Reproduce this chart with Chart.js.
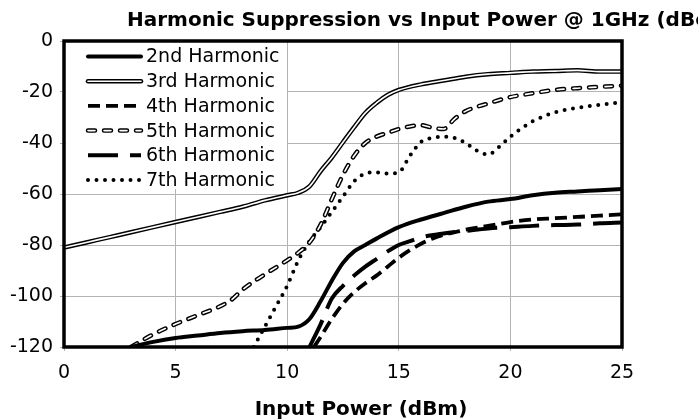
<!DOCTYPE html>
<html>
<head>
<meta charset="utf-8">
<script src="https://cdn.jsdelivr.net/npm/chart.js@4.4.1/dist/chart.umd.min.js"></script>
<style>
  html, body { margin: 0; padding: 0; background: #fff; overflow: hidden; }
  #wrap { width: 698px; height: 420px; position: relative; }
</style>
</head>
<body>
<div id="wrap"><canvas id="chart"></canvas></div>
<script>
const chartTitle = "Harmonic Suppression vs Input Power @ 1GHz (dBc)";
const xTitle = "Input Power (dBm)";
const seriesNames = ["2nd Harmonic", "3rd Harmonic", "4th Harmonic", "5th Harmonic", "6th Harmonic", "7th Harmonic"];

// values, x = input power (dBm), y = suppression (dBc)
const h2X = [3, 4, 5, 6, 7, 8, 9, 10, 10.5, 11, 11.5, 12, 12.5, 13, 13.5, 14, 15, 16, 17, 18, 19, 20, 21, 22, 23, 24, 25];
const h2Y = [-120, -118, -116.5, -115.5, -114.5, -113.8, -113.3, -112.5, -112, -109, -102, -94, -87, -82.5, -80, -77.5, -73, -70, -67.5, -65, -63, -62, -60.5, -59.5, -59, -58.5, -58];

const h3X = [0, 1, 2, 3, 4, 5, 6, 7, 8, 9, 10, 10.5, 11, 11.5, 12, 12.5, 13, 13.5, 14, 14.5, 15, 16, 17, 18, 19, 20, 21, 22, 23, 24, 25];
const h3Y = [-81, -79, -77, -75, -73, -71, -69, -67, -65, -62.5, -60.5, -59.5, -57, -51, -45.7, -39.7, -33.8, -28.2, -24.3, -21.2, -19.2, -17, -15.5, -14, -13, -12.5, -12, -11.8, -11.5, -12, -12];

const h4X = [11.2, 11.5, 12, 12.5, 13, 13.5, 14, 14.5, 15, 15.5, 16, 16.5, 17, 17.5, 18, 19, 20, 21, 22, 23, 24, 25];
const h4Y = [-120, -116, -109, -103, -98.5, -95, -92, -88.5, -85, -82, -79.5, -77.5, -76, -75, -74, -72.5, -71, -70, -69.5, -69, -68.5, -68];

const h5X = [3, 4, 5, 6, 7, 7.5, 8, 9, 10, 10.5, 11, 11.5, 12, 12.5, 13, 13.5, 14, 14.5, 15, 15.5, 16, 16.5, 17, 17.5, 18, 19, 20, 21, 22, 23, 24, 25];
const h5Y = [-120, -115, -111, -107.5, -104, -101.5, -97.5, -91.5, -86, -83, -79, -72, -62, -52.5, -45, -40, -37.5, -36, -34.5, -33.5, -33, -34, -34.5, -30.5, -27.5, -24.5, -22, -20.5, -19.2, -18.5, -18, -17.5];

const h6X = [11, 11.5, 12, 12.5, 13, 13.5, 14, 14.5, 15, 15.5, 16, 17, 18, 19, 20, 21, 22, 23, 24, 25];
const h6Y = [-120, -111, -101, -96, -92, -88.5, -85.5, -82.5, -80, -78.5, -77, -75.5, -74.5, -73.5, -73, -72.5, -72.2, -72, -71.5, -71.2];

const h7X = [8.5, 9, 9.5, 10, 10.5, 11, 11.5, 12, 12.5, 13, 13.5, 14, 14.5, 15, 15.5, 16, 16.5, 17, 17.5, 18, 18.5, 19, 19.5, 20, 21, 22, 23, 24, 25];
const h7Y = [-120, -112, -104, -96, -86, -78.5, -73, -67, -61, -55, -52, -51.5, -52, -51.5, -45, -39.5, -38, -37.5, -38, -40, -43, -44.5, -41.5, -37.5, -31.5, -28, -26.2, -25, -24];

const xTicks = [0, 5, 10, 15, 20, 25];
const yTicks = [0, -20, -40, -60, -80, -100, -120];

// line look for each series: outer stroke, and optional white inner stroke
const styles = [
  { width: 4, dash: [], cap: "round" },
  { width: 4.5, dash: [], cap: "round", inner: 1.6 },
  { width: 3.8, dash: [12, 6], cap: "butt" },
  { width: 4.5, dash: [7, 9], cap: "round", inner: 1.6 },
  { width: 4, dash: [30, 12], cap: "butt" },
  { width: 4, dash: [0, 8.5], cap: "round" }
];

const xs = [h2X, h3X, h4X, h5X, h6X, h7X];
const ys = [h2Y, h3Y, h4Y, h5Y, h6Y, h7Y];

const datasets = [];
seriesNames.forEach((name, i) => {
  const pts = xs[i].map((x, j) => ({ x: x, y: ys[i][j] }));
  const st = styles[i];
  datasets.push({
    label: name,
    data: pts,
    borderColor: "#000",
    borderWidth: st.width,
    borderDash: st.dash,
    borderCapStyle: st.cap,
    borderJoinStyle: "round",
    pointRadius: 0,
    cubicInterpolationMode: "monotone",
    order: 2 * i + 1
  });
  if (st.inner) {
    datasets.push({
      label: name + " inner",
      data: pts,
      borderColor: "#fff",
      borderWidth: st.inner,
      borderDash: st.dash,
      borderCapStyle: st.cap,
      borderJoinStyle: "round",
      pointRadius: 0,
      cubicInterpolationMode: "monotone",
      order: 2 * i
    });
  }
});

const font = "DejaVu Sans";

const framePlugin = {
  id: "frame",
  afterDatasetsDraw(chart) {
    const a = chart.chartArea;
    const ctx = chart.ctx;
    ctx.save();
    ctx.strokeStyle = "#000";
    ctx.lineWidth = 3.5;
    ctx.strokeRect(a.left, a.top, a.right - a.left, a.bottom - a.top);
    ctx.restore();
  }
};

function strokeSample(ctx, st, x1, x2, y) {
  ctx.beginPath();
  ctx.moveTo(x1, y);
  ctx.lineTo(x2, y);
  ctx.strokeStyle = "#000";
  ctx.lineWidth = st.width;
  ctx.setLineDash(st.dash);
  ctx.lineCap = st.cap;
  ctx.stroke();
  if (st.inner) {
    ctx.strokeStyle = "#fff";
    ctx.lineWidth = st.inner;
    ctx.stroke();
  }
  ctx.setLineDash([]);
}

const legendPlugin = {
  id: "boxLegend",
  afterDraw(chart) {
    const ctx = chart.ctx;
    const a = chart.chartArea;
    ctx.save();
    ctx.fillStyle = "#fff";
    ctx.fillRect(a.left + 2, a.top + 2, 221, 146);
    ctx.font = "19px '" + font + "'";
    ctx.textBaseline = "middle";
    ctx.fillStyle = "#000";
    seriesNames.forEach((name, i) => {
      const y = a.top + 15.5 + i * 24.7;
      strokeSample(ctx, styles[i], 88, 141, y);
      ctx.fillText(name, 146, y + 1);
    });
    // chart title (runs off the right edge like the original)
    ctx.font = "bold 20px '" + font + "'";
    ctx.textBaseline = "alphabetic";
    ctx.fillText(chartTitle, 127, 26);
    // x axis title
    ctx.textAlign = "center";
    ctx.fillText(xTitle, 361, 415);
    ctx.restore();
  }
};

new Chart(document.getElementById("chart"), {
  type: "line",
  data: { datasets: datasets },
  options: {
    responsive: true,
    maintainAspectRatio: false,
    animation: false,
    layout: { padding: { top: 41, right: 76, left: 0, bottom: 0 } },
    plugins: { legend: { display: false }, title: { display: false }, tooltip: { enabled: false } },
    scales: {
      x: {
        type: "linear",
        min: 0,
        max: 25,
        afterBuildTicks: (s) => { s.ticks = xTicks.map((v) => ({ value: v })); },
        afterFit: (s) => { s.height = 73; },
        ticks: { color: "#000", font: { family: font, size: 19 }, padding: 11 },
        grid: { color: "#b4b4b4", lineWidth: 1, tickLength: 4 },
        border: { display: false }
      },
      y: {
        min: -120,
        max: 0,
        afterBuildTicks: (s) => { s.ticks = yTicks.map((v) => ({ value: v })); },
        afterFit: (s) => { s.width = 64; },
        ticks: { color: "#000", font: { family: font, size: 19 }, padding: 7 },
        grid: { color: "#b4b4b4", lineWidth: 1, tickLength: 4 },
        border: { display: false }
      }
    }
  },
  plugins: [framePlugin, legendPlugin]
});
</script>
</body>
</html>
